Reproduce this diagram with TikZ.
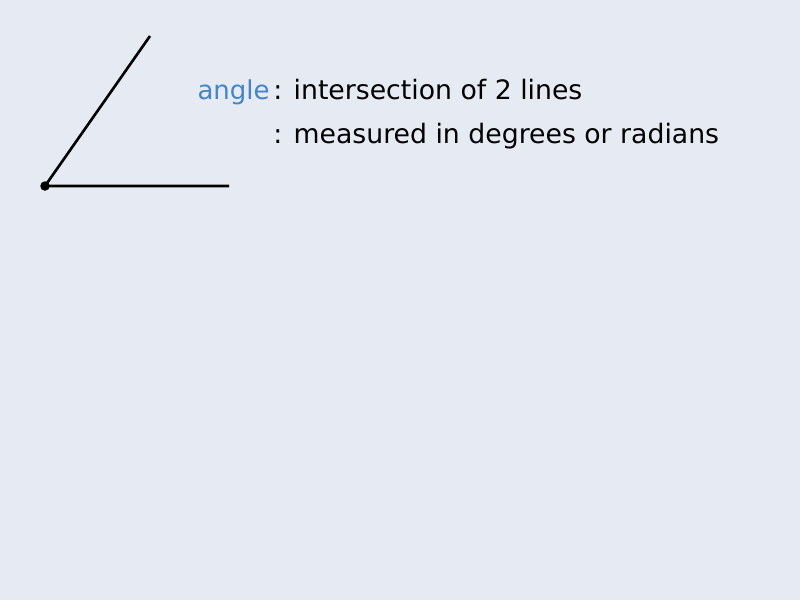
\documentclass[tikz,border=0pt]{standalone}
\usepackage{fontspec}
\setmainfont{DejaVu Sans}
\usetikzlibrary{positioning}

\begin{document}
\begin{tikzpicture}[x=0.02cm, y=-0.02cm]

\definecolor{bgcolor}{RGB}{230, 235, 243}
\definecolor{termcolor}{RGB}{66, 133, 204}

\fill[bgcolor] (0, 0) rectangle (800, 600);
\useasboundingbox (0, 0) rectangle (800, 600);

\coordinate (vertex) at (45, 186);
\coordinate (armup) at (150, 36);
\coordinate (armright) at (229, 186);
\draw[line width=1.5pt] (armup) -- (vertex) -- (armright);
\fill (vertex) circle (2.7pt);

\node[termcolor, font=\fontsize{14.8}{17}\selectfont, anchor=base east, inner sep=0pt] (term) at (270, 99) {angle};
\node[font=\fontsize{15.2}{17}\selectfont, anchor=base west, inner sep=0pt] (defone) at (273, 99) {: intersection of 2 lines};
\node[font=\fontsize{15.2}{17}\selectfont, anchor=base west, inner sep=0pt] (deftwo) at (273, 143) {: measured in degrees or radians};

\end{tikzpicture}
\end{document}
